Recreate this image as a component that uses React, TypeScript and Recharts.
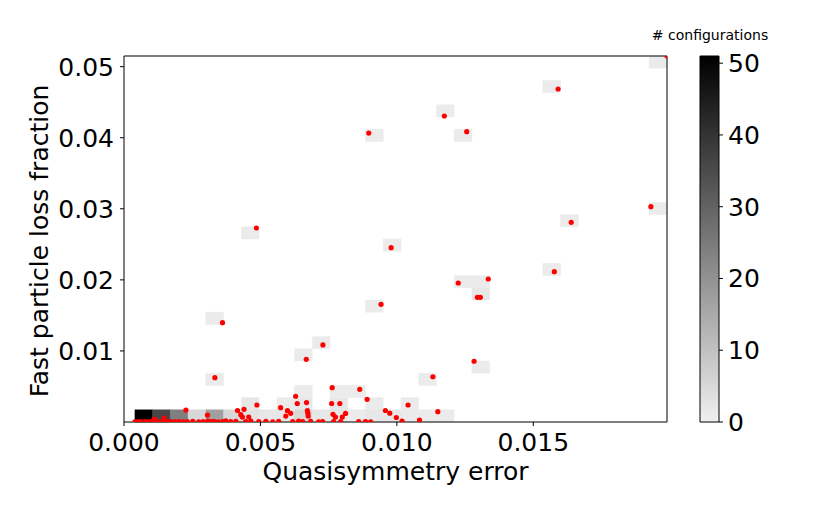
import React from "react";
import {
  ScatterChart,
  ComposedChart,
  Scatter,
  XAxis,
  YAxis,
  ReferenceArea,
} from "recharts";

const X_MAX = 0.0199;
const Y_MAX = 0.0515;
const BIN_X0 = 0.0004;
const N_BINS = 30;
const MAX_COUNT = 51;

const xTicks = [0, 0.005, 0.01, 0.015];
const yTicks = [0.01, 0.02, 0.03, 0.04, 0.05];
const colorbarTicks = [0, 10, 20, 30, 40, 50];

// [x bin, y bin, # configurations]
const bins: [number, number, number][] = [
  [0, 0, 51], [1, 0, 36], [2, 0, 24], [3, 0, 5], [4, 0, 17], [5, 0, 5],
  [6, 0, 3], [7, 0, 2], [8, 0, 2], [9, 0, 5], [10, 0, 2], [11, 0, 2],
  [12, 0, 1], [13, 0, 2], [14, 0, 2], [15, 0, 1], [16, 0, 1], [17, 0, 1],
  [6, 1, 2], [8, 1, 1], [9, 1, 2], [11, 1, 2], [13, 1, 1], [15, 1, 1],
  [9, 2, 1], [11, 2, 1], [12, 2, 1],
  [4, 3, 1], [16, 3, 1],
  [19, 4, 1], [9, 5, 1], [10, 6, 1], [4, 8, 1], [13, 9, 1], [19, 10, 2],
  [18, 11, 1], [19, 11, 1], [23, 12, 1], [14, 14, 1], [6, 15, 1],
  [24, 16, 1], [29, 17, 1], [13, 23, 1], [18, 23, 1], [17, 25, 1],
  [23, 27, 1], [29, 29, 1],
];

// [quasisymmetry error, fast particle loss fraction]
const sparsePoints: [number, number][] = [
  [0.01591, 0.04686], [0.01174, 0.04306], [0.01256, 0.04085],
  [0.00897, 0.04066], [0.01931, 0.0303], [0.01639, 0.0281],
  [0.00485, 0.0273], [0.00979, 0.02453], [0.01577, 0.02115],
  [0.01335, 0.02012], [0.01225, 0.01956], [0.01295, 0.01755],
  [0.01306, 0.01755], [0.00942, 0.01656], [0.00361, 0.01397],
  [0.00729, 0.01085], [0.00668, 0.00882], [0.01283, 0.00855],
  [0.01132, 0.00637], [0.00333, 0.00623], [0.0199, 0.0515],
];

const clusterPoints: [number, number][] = [
  [0.00227, 0.00168], [0.00111, 0.00042], [0.00147, 0.00056], [0.00306, 0.00098],
  [0.00416, 0.00162], [0.0044, 0.00179], [0.00428, 0.00103], [0.00434, 0.0007],
  [0.00487, 0.00239], [0.00457, 0.0007], [0.00574, 0.00201], [0.00593, 0.00084],
  [0.00599, 0.00159], [0.00611, 0.00122], [0.00629, 0.00362], [0.00635, 0.0026],
  [0.00669, 0.00274], [0.00672, 0.0016], [0.00674, 0.00122], [0.00675, 0.00084],
  [0.00763, 0.00483], [0.00761, 0.0026], [0.00791, 0.0026], [0.00766, 0.00108],
  [0.00775, 0.0007], [0.008, 0.0007], [0.00812, 0.0012], [0.00864, 0.0046],
  [0.00891, 0.00319], [0.00958, 0.00162], [0.00974, 0.00124], [0.00998, 0.00063],
  [0.01041, 0.00239], [0.0115, 0.00145], [0.01019, 0.00014], [0.01083, 0.00028],
];

const baselinePoints: [number, number][] = [
  [0.0004, 0.00003], [0.00052, 0.00005], [0.00064, 0.00002], [0.00078, 0.00006],
  [0.0009, 0.00003], [0.00102, 0.00008], [0.00115, 0.00004], [0.0013, 0.00002],
  [0.00143, 0.00007], [0.00158, 0.00003], [0.00172, 0.00005], [0.00186, 0.00002],
  [0.00201, 0.00006], [0.00216, 0.00003], [0.00232, 0.00004], [0.00252, 0.00008],
  [0.00274, 0.00003], [0.0029, 0.00005], [0.00307, 0.00012], [0.00318, 0.00004],
  [0.00329, 0.00009], [0.00345, 0.00003], [0.00362, 0.00006], [0.00373, 0.00015],
  [0.00391, 0.00004], [0.0041, 0.0001], [0.00446, 0.00005], [0.00465, 0.00012],
  [0.00494, 0.00004], [0.0052, 0.00008], [0.00545, 0.00003], [0.00567, 0.0001],
  [0.00618, 0.00004], [0.0064, 0.00012], [0.00655, 0.00006], [0.00684, 0.00008],
  [0.00713, 0.00003], [0.00728, 0.00005], [0.00768, 0.00004], [0.00794, 0.00006],
  [0.0086, 0.00004], [0.00885, 0.00007], [0.00904, 0.00003],
];

const points = [...sparsePoints, ...clusterPoints, ...baselinePoints].map(
  ([x, y]) => ({ x, y })
);

const binW = (X_MAX - BIN_X0) / N_BINS;
const binH = Y_MAX / N_BINS;

const grey = (count: number) => {
  const g = Math.round(240 * (1 - Math.min(count, MAX_COUNT) / MAX_COUNT));
  return `rgb(${g},${g},${g})`;
};

const font = "'DejaVu Sans', sans-serif";

const renderDot = (props: any) => (
  <circle cx={props.cx} cy={props.cy} r={2.6} fill="#ff0000" />
);

export default function App() {
  return (
    <div
      style={{
        position: "absolute",
        left: 0,
        top: 0,
        width: 830,
        height: 513,
        background: "#fff",
        fontFamily: font,
      }}
    >
      <ScatterChart
        width={690}
        height={513}
        margin={{ top: 56, right: 23, bottom: 31, left: 0 }}
      >
        {bins.map(([i, j, c]) => (
          <ReferenceArea
            key={`bin-${i}-${j}`}
            x1={BIN_X0 + i * binW}
            x2={BIN_X0 + (i + 1) * binW}
            y1={j * binH}
            y2={(j + 1) * binH}
            fill={grey(c)}
            fillOpacity={1}
            stroke={grey(c)}
            strokeWidth={0.5}
            ifOverflow="visible"
          />
        ))}
        <XAxis
          type="number"
          dataKey="x"
          domain={[0, X_MAX]}
          allowDataOverflow
          ticks={xTicks}
          interval={0}
          tickFormatter={(v: number) => v.toFixed(3)}
          tick={{ fill: "#000", fontSize: 25 }}
          tickLine={{ stroke: "#000" }}
          axisLine={false}
          tickSize={4}
          tickMargin={7}
          height={60}
          label={{
            value: "Quasisymmetry error",
            position: "insideBottom",
            offset: 2,
            fill: "#000",
            fontSize: 25,
          }}
        />
        <YAxis
          type="number"
          dataKey="y"
          domain={[0, Y_MAX]}
          allowDataOverflow
          ticks={yTicks}
          interval={0}
          tickFormatter={(v: number) => v.toFixed(2)}
          tick={{ fill: "#000", fontSize: 25 }}
          tickLine={{ stroke: "#000" }}
          axisLine={false}
          tickSize={4}
          tickMargin={6}
          width={124}
          label={{
            content: () => (
              <text
                x={48}
                y={241}
                transform="rotate(-90 48 241)"
                textAnchor="middle"
                fontSize={25}
                fill="#000"
              >
                Fast particle loss fraction
              </text>
            ),
          }}
        />
        <Scatter
          data={points}
          shape={renderDot}
          isAnimationActive={false}
        />
        <ReferenceArea
          x1={0}
          x2={X_MAX}
          y1={0}
          y2={Y_MAX}
          fill="none"
          stroke="#000"
          strokeWidth={1}
          ifOverflow="visible"
        />
      </ScatterChart>

      <div
        style={{
          position: "absolute",
          left: 650,
          top: 27,
          width: 120,
          textAlign: "center",
          fontSize: 14,
          lineHeight: "16px",
          color: "#000",
        }}
      >
        # configurations
      </div>

      <div style={{ position: "absolute", left: 690, top: 0 }}>
        <ComposedChart
          width={130}
          height={513}
          margin={{ top: 56, right: 0, bottom: 91, left: 10 }}
          data={[{ x: 0 }, { x: 1 }]}
        >
          <defs>
            <linearGradient id="cbarGrad" x1="0" y1="1" x2="0" y2="0">
              <stop offset="0" stopColor="rgb(240,240,240)" />
              <stop offset="1" stopColor="#000" />
            </linearGradient>
          </defs>
          <XAxis type="number" dataKey="x" domain={[0, 1]} hide />
          <YAxis
            type="number"
            orientation="right"
            domain={[0, MAX_COUNT]}
            allowDataOverflow
            ticks={colorbarTicks}
            interval={0}
            tick={{ fill: "#000", fontSize: 25 }}
            tickLine={{ stroke: "#000" }}
            axisLine={false}
            tickSize={4}
            tickMargin={5}
            width={101}
          />
          <ReferenceArea
            x1={0}
            x2={1}
            y1={0}
            y2={MAX_COUNT}
            fill="url(#cbarGrad)"
            fillOpacity={1}
            stroke="#000"
            strokeWidth={1}
            ifOverflow="visible"
          />
        </ComposedChart>
      </div>
    </div>
  );
}
